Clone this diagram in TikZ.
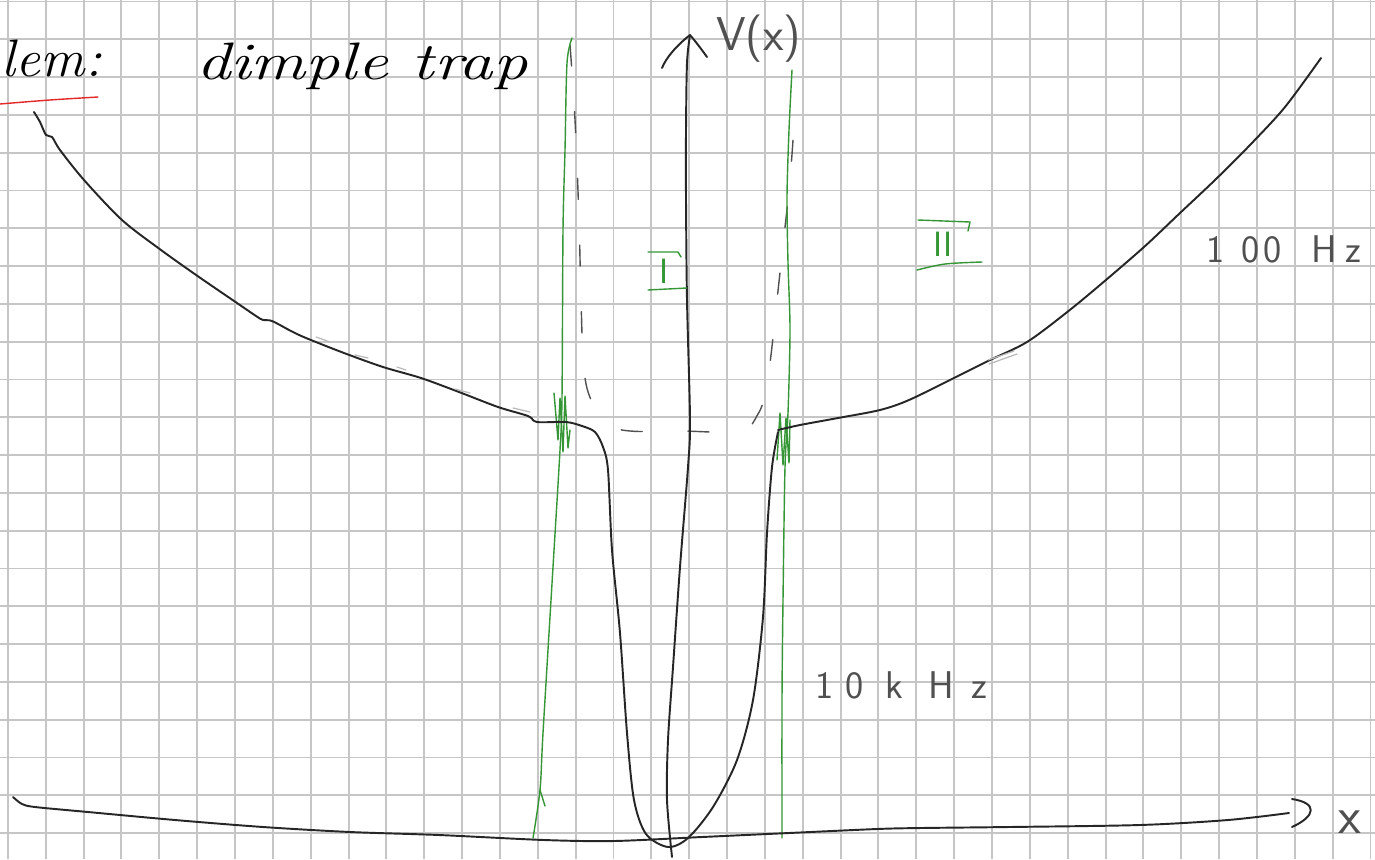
\documentclass[tikz,border=0pt]{standalone}
\usepackage{fontspec}
\definecolor{gridc}{RGB}{198,198,198}
\definecolor{ink}{RGB}{38,38,38}
\definecolor{pen}{RGB}{80,80,80}
\definecolor{grn}{RGB}{52,150,52}
\definecolor{redpen}{RGB}{228,40,40}
\begin{document}
\begin{tikzpicture}[x=0.02cm,y=-0.02cm,
  gridline/.style={gridc,line width=1.1pt},
  curve/.style={ink,line width=1.1pt,line cap=round,line join=round},
  greenline/.style={grn,line width=0.8pt,line cap=round,line join=round},
  guide/.style={pen,line width=0.8pt,dash pattern=on 12pt off 26pt,line cap=round},
  faint/.style={gray!55,line width=0.7pt,line cap=round},
  hand/.style={inner sep=0pt,outer sep=0pt},
  script/.style={hand,text=black,font=\itshape\fontsize{30}{36}\selectfont},
  label/.style={hand,text=pen,font=\sffamily\fontsize{22}{24}\selectfont},
  roman/.style={hand,text=grn,font=\sffamily\fontsize{20}{22}\selectfont}
]
\useasboundingbox (0,0) rectangle (1375,859);
\fill[white] (0,0) rectangle (1375,859);
% grid paper
\foreach \k in {0,...,36} \draw[gridline] ({7.9+37.85*\k},0) -- ({7.9+37.85*\k},859);
\foreach \k in {0,...,22} \draw[gridline] (0,{1.5+37.8*\k}) -- (1375,{1.5+37.8*\k});

% title
\node[script,anchor=base west,xscale=1.05,transform shape] (lem) at (2,76) {lem:};
\draw[redpen,line width=0.8pt,line cap=round] plot[smooth] coordinates {(0,104) (50,100) (98,97)};
\node[script,anchor=base west,xscale=1.3,transform shape] (title) at (196,79) {dimple trap};

% dashed guide of the wide trap
\draw[guide] plot[smooth,tension=0.6] coordinates {(570,45) (575,120) (579,220) (581,300) (584,370) (592,402) (608,424) (630,431) (680,431) (740,431) (758,414) (766,390) (771,355) (777,300) (783,245) (789,190) (793,140) (795,100)};

% green region boundaries
\draw[greenline] plot[smooth,tension=0.5] coordinates {(572,38) (567,63) (565,150) (563,230) (562,397) (560,450) (553,567) (543,733) (540,790) (533,838)};
\draw[greenline] (540,790) -- (545,806);
\draw[greenline] (554,393) -- (558,440) -- (560,398) -- (563,452) -- (565,396) -- (568,448) -- (570,430);
\draw[greenline] plot[smooth,tension=0.5] coordinates {(792,70) (789,130) (787,197) (788,263) (790,330) (788,413) (785,467) (783,600) (782,700) (782,838)};
\draw[greenline] (777,460) -- (780,413) -- (783,465) -- (786,418) -- (789,463) -- (790,420);

% potential
\draw[curve] plot[smooth,tension=0.5] coordinates {(34,112) (40,122) (46,135) (52,137) (60,150) (84,180) (122,220) (161,250) (199,277) (237,303) (256,316) (263,320) (272,321) (291,331) (306,338) (344,353) (383,367) (421,378) (459,392) (498,407) (528,416) (537,422) (566,422) (582,426) (595,432) (603,447) (608,470) (612,550) (620,633) (627,733) (634,800) (646,834) (668,847) (688,838) (713,807) (737,760) (753,700) (763,617) (767,533) (772,467) (778,432)};
\draw[curve] plot[smooth,tension=0.5] coordinates {(778,430) (800,425) (838,418) (880,410) (909,400) (956,377) (990,360) (1027,342) (1066,313) (1100,285) (1144,247) (1180,213) (1215,180) (1250,145) (1285,107) (1321,58)};
% faint retouch strokes
\draw[faint] (316,337) -- (330,342);
\draw[faint] (355,355) -- (368,358);
\draw[faint] (397,367) -- (406,370);
\draw[faint] (455,389) -- (470,393);
\draw[faint] (513,408) -- (530,412);
\draw[faint] (989,364) -- (1017,354);
\draw[faint] (988,360) -- (1014,351);

% axes
\coordinate (ybot) at (672,857);
\coordinate (ytop) at (690,35);
\draw[curve] plot[smooth,tension=0.5] coordinates {(ybot) (667,800) (668,740) (673,667) (680,567) (688,467) (690,420) (687,300) (686,200) (686,130) (687,63) (ytop)};
\draw[curve] (662,68) .. controls (666,58) and (676,46) .. (ytop) .. controls (696,42) and (702,50) .. (707,57);
\coordinate (xleft) at (13,797);
\coordinate (xright) at (1289,813);
\draw[curve] plot[smooth,tension=0.5] coordinates {(xleft) (22,804) (35,807) (88,812) (175,820) (263,827) (350,832) (439,835) (544,840) (614,841) (702,837) (789,833) (877,829) (921,828) (1009,827) (1140,825) (1228,820) (xright)};
\draw[curve] (1292,799) .. controls (1318,803) and (1316,816) .. (1292,827);

\node[label,font=\sffamily\fontsize{27}{30}\selectfont,anchor=base west] (Vlab) at (716,50) {V(x)};
\node[label,font=\sffamily\fontsize{30}{32}\selectfont,anchor=base west] (xlab) at (1338,833) {x};

% frequency labels
\node[label,anchor=base west] (lab100) at (1206,262) {1\kern10pt 0\kern2pt 0 \kern10pt H\kern5pt z};
\node[label,anchor=base west] (lab10k) at (815,698) {1\kern7pt 0 \kern5.5pt k\kern14.5pt H\kern10pt z};

% region labels
\node[roman] (labI) at (664,271) {I};
\draw[greenline] (648,252) -- (678,252) -- (681,257);
\draw[greenline] (648,290) -- (687,288);
\node[roman] (labII) at (943,244) {II};
\draw[greenline] (918,220) -- (970,222) -- (968,231);
\draw[greenline] plot[smooth] coordinates {(917,270) (945,264) (982,262)};
\end{tikzpicture}
\end{document}
